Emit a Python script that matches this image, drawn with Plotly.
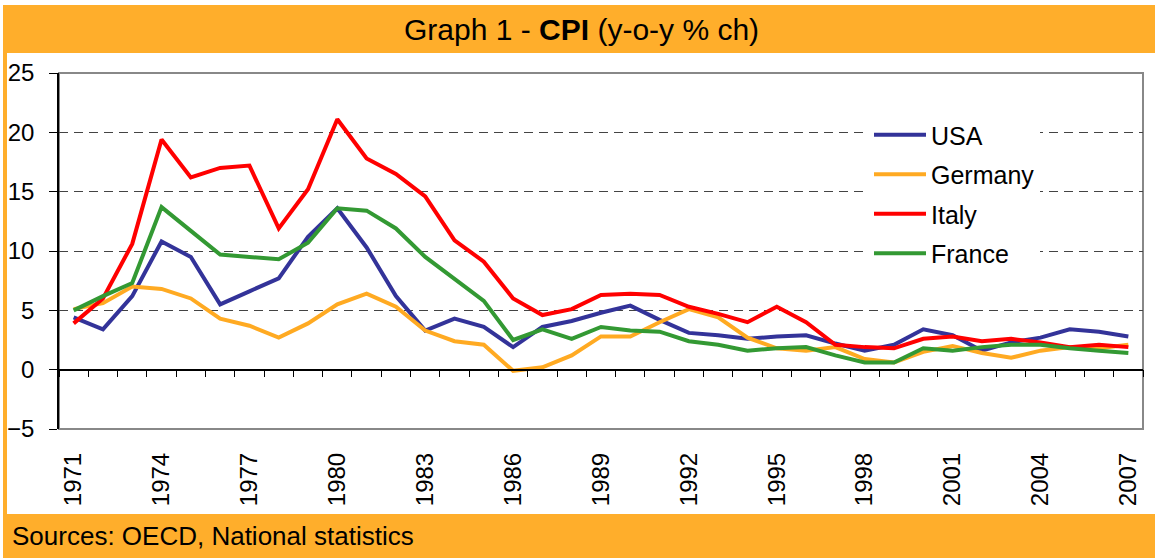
import plotly.graph_objects as go

# ---- data -------------------------------------------------------------
years = list(range(1971, 2008))
usa = [4.4, 3.4, 6.2, 10.8, 9.5, 5.5, 6.6, 7.7, 11.2, 13.6, 10.3, 6.2, 3.3, 4.3,
       3.6, 1.9, 3.6, 4.1, 4.8, 5.4, 4.2, 3.1, 2.9, 2.6, 2.8, 2.9, 2.2, 1.6,
       2.1, 3.4, 2.9, 1.6, 2.3, 2.7, 3.4, 3.2, 2.8]
germany = [5.1, 5.6, 7.0, 6.8, 6.0, 4.3, 3.7, 2.7, 3.9, 5.5, 6.4, 5.3, 3.3, 2.4,
           2.1, -0.1, 0.2, 1.2, 2.8, 2.8, 4.0, 5.1, 4.4, 2.7, 1.8, 1.6, 1.9, 0.9,
           0.6, 1.5, 2.0, 1.4, 1.0, 1.6, 1.9, 1.8, 2.1]
italy = [3.9, 6.0, 10.6, 19.4, 16.2, 17.0, 17.2, 11.9, 15.2, 21.1, 17.8, 16.5, 14.6,
         10.9, 9.1, 6.0, 4.6, 5.1, 6.3, 6.4, 6.3, 5.3, 4.7, 4.0, 5.3, 4.0, 2.1,
         1.9, 1.8, 2.6, 2.8, 2.4, 2.6, 2.3, 1.9, 2.1, 1.9]
france = [5.0, 6.2, 7.3, 13.7, 11.7, 9.7, 9.5, 9.3, 10.7, 13.6, 13.4, 11.9, 9.5,
          7.6, 5.8, 2.5, 3.4, 2.6, 3.6, 3.3, 3.2, 2.4, 2.1, 1.6, 1.8, 1.9, 1.2,
          0.6, 0.6, 1.8, 1.6, 1.9, 2.1, 2.1, 1.8, 1.6, 1.4]
series_names = ["USA", "Germany", "Italy", "France"]
series_colors = ["#333399", "#FFAA22", "#FF0000", "#339933"]
label_years = list(range(1971, 2008, 3))
y_ticks = [-5, 0, 5, 10, 15, 20, 25]
title_html = "Graph 1 - <b>CPI</b> (y-o-y % ch)"
source_text = "Sources: OECD, National statistics"

# ---- geometry (pixels) ------------------------------------------------
W, H = 1155, 559
PX0, PX1 = 59, 1143
PY_TOP, PY_BOT = 73, 429
FONT = "Liberation Sans, Arial, sans-serif"
ORANGE = "#FFAE2B"


def px(x):
    return x / W


def py(y):
    return (H - y) / H


xdom = [px(PX0), px(PX1)]
ydom = [py(PY_BOT), py(PY_TOP)]
ymin, ymax = -5, 25
zero_pos = ydom[0] + (ydom[1] - ydom[0]) * (0 - ymin) / (ymax - ymin)
xrange_ = [years[0] - 0.5, years[-1] + 0.5]

fig = go.Figure()
for name, vals, col in zip(series_names, [usa, germany, italy, france], series_colors):
    fig.add_trace(go.Scatter(
        x=years, y=vals, name=name, mode="lines",
        line=dict(color=col, width=4), legendgroup=name,
    ))

# invisible trace to activate the zero-line tick axis
fig.add_trace(go.Scatter(x=[years[0]], y=[0], xaxis="x2", mode="lines",
                         showlegend=False, hoverinfo="skip",
                         line=dict(width=0, color="rgba(0,0,0,0)")))

fig.update_layout(
    width=W, height=H,
    margin=dict(l=0, r=0, t=0, b=0, pad=0, autoexpand=False),
    paper_bgcolor="white", plot_bgcolor="white",
    font=dict(family=FONT, color="black"),
    xaxis=dict(
        domain=xdom, range=xrange_, tickmode="array", tickvals=label_years,
        ticktext=[str(y) for y in label_years], tickangle=-90,
        tickfont=dict(size=24, family=FONT, color="black"),
        ticks="", showgrid=False, zeroline=False, showline=False,
        ticklabelstandoff=18, automargin=False,
    ),
    xaxis2=dict(
        overlaying="x", anchor="free", position=zero_pos, domain=xdom,
        range=xrange_, tickmode="array",
        tickvals=[y - 0.5 for y in years] + [years[-1] + 0.5],
        showticklabels=False, ticks="outside", ticklen=7, tickwidth=1.2,
        tickcolor="black", showline=True, linecolor="black", linewidth=1.5,
        showgrid=False, zeroline=False, automargin=False,
    ),
    yaxis=dict(
        domain=ydom, range=[ymin, ymax], tickmode="array", tickvals=y_ticks,
        tickfont=dict(size=24, family=FONT, color="black"),
        ticks="outside", ticklen=8, tickcolor="black", tickwidth=1.2,
        showline=True, linecolor="black", linewidth=1.5,
        showgrid=True, gridcolor="#444444", gridwidth=1.2, griddash="9px,6px",
        zeroline=False, ticklabelstandoff=10, automargin=False,
    ),
    legend=dict(
        x=px(869), y=py(112), xanchor="left", yanchor="top",
        bgcolor="white", borderwidth=0,
        font=dict(size=25, family=FONT, color="black"),
        tracegroupgap=4, itemwidth=52,
    ),
    showlegend=True,
)

shapes = [
    # title bar, left strip, bottom bar
    dict(type="rect", xref="paper", yref="paper", x0=px(3), x1=px(1155),
         y0=py(53), y1=py(5), fillcolor=ORANGE, line=dict(width=0), layer="below"),
    dict(type="rect", xref="paper", yref="paper", x0=px(3), x1=px(7),
         y0=py(514), y1=py(53), fillcolor=ORANGE, line=dict(width=0), layer="below"),
    dict(type="rect", xref="paper", yref="paper", x0=px(3), x1=px(1155),
         y0=py(558), y1=py(514), fillcolor=ORANGE, line=dict(width=0), layer="below"),
    # plot frame
    dict(type="rect", xref="paper", yref="paper", x0=xdom[0], x1=xdom[1],
         y0=ydom[0], y1=ydom[1], line=dict(color="#888888", width=2),
         fillcolor="rgba(0,0,0,0)", layer="between"),
]
fig.update_layout(shapes=shapes)

fig.add_annotation(text=title_html, xref="paper", yref="paper",
                   x=px(582), y=py(29), xanchor="center", yanchor="middle",
                   showarrow=False, font=dict(size=30, family=FONT, color="black"))
fig.add_annotation(text=source_text, xref="paper", yref="paper",
                   x=px(10), y=py(536), xanchor="left", yanchor="middle",
                   showarrow=False, font=dict(size=26, family=FONT, color="black"))

fig.write_html(
    "out.html",
    config={"displayModeBar": False},
    post_script="document.body.style.margin='0';document.body.style.padding='0';"
                "document.body.style.overflow='hidden';",
)
